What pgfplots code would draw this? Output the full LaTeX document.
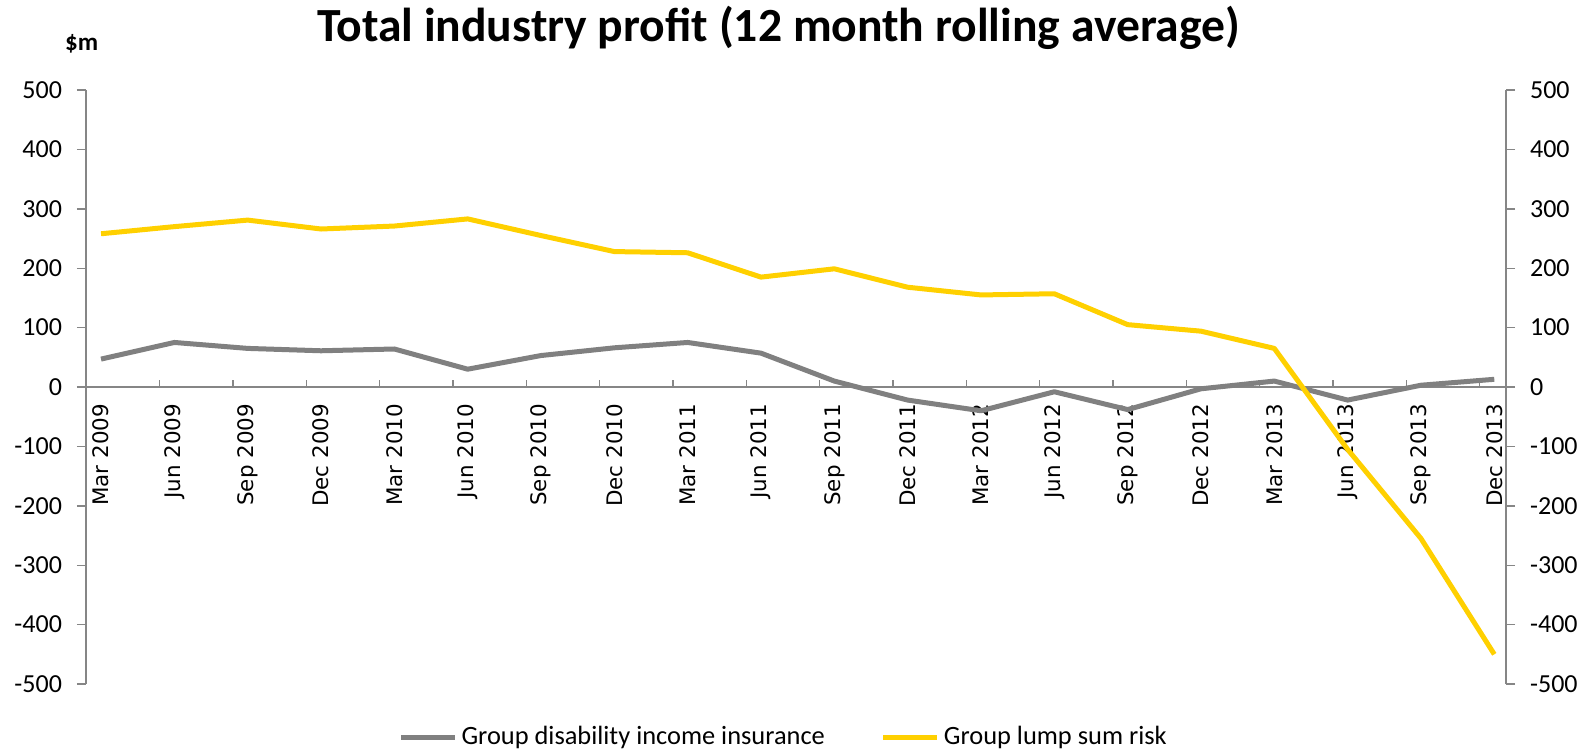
\documentclass[border=0pt]{standalone}
\usepackage{fontspec}
\setmainfont{Carlito}
\newfontfamily\dejavu{DejaVu Sans}
\usepackage{pgfplots}
\usepackage{pgfplotstable}
\pgfplotsset{compat=1.18}
\definecolor{ylw}{RGB}{255,208,0}
\definecolor{gry}{RGB}{128,128,128}
\definecolor{axg}{RGB}{134,134,134}

\pgfplotstableread{
x gdi gls
0 47 258
1 75 270
2 65 281
3 61 266
4 64 271
5 30 283
6 53 255
7 66 228
8 75 226
9 57 185
10 10 199
11 -22 168
12 -40 155
13 -8 157
14 -38 105
15 -3 94
16 10 65
17 -22 -105
18 3 -255
19 13 -450
}\datatab

\begin{document}
\begin{tikzpicture}
\useasboundingbox (-43pt,-34pt) rectangle (753.5pt,342pt);
\pgfplotsset{common/.style={at={(0,0)}, anchor=south west, scale only axis,
  width=710pt, height=297pt, xmin=-0.205, xmax=19.16, ymin=-500, ymax=500,
  tick style={axg, line width=0.7pt}},
  noarrows/.style={axis line style={axg, line width=0.7pt, -},
  every inner x axis line/.append style={-},
  every outer x axis line/.append style={-},
  every inner y axis line/.append style={-},
  every outer y axis line/.append style={-}}}
% left y axis
\begin{axis}[common, axis y line=left, axis x line=none, noarrows,
  ytick={-500,-400,...,500}, tick align=outside, major tick length=4.5pt,
  yticklabel style={font=\fontsize{13}{15}\selectfont, xshift=-4pt, /pgf/number format/assume math mode=true}]
\end{axis}
% right y axis
\begin{axis}[common, axis y line=right, axis x line=none, noarrows,
  ytick={-500,-400,...,500}, tick align=outside, major tick length=4.5pt,
  yticklabel style={font=\fontsize{13}{15}\selectfont, xshift=4pt, /pgf/number format/assume math mode=true}]
\end{axis}
% main axis with data
\begin{axis}[common, axis x line=middle, axis y line=none, noarrows,
  xtick={0,...,19},
  xticklabels={Mar 2009, Jun 2009, Sep 2009, Dec 2009, Mar 2010, Jun 2010, Sep 2010, Dec 2010, Mar 2011, Jun 2011, Sep 2011, Dec 2011, Mar 2012, Jun 2012, Sep 2012, Dec 2012, Mar 2013, Jun 2013, Sep 2013, Dec 2013},
  minor xtick={0.8,1.8,...,18.8},
  tick align=inside, major tick length=0pt, minor tick length=3.6pt,
  xticklabel style={font=\dejavu\fontsize{10.7}{12}\selectfont, yshift=-5pt, rotate=90, anchor=east},
  legend style={at={(0.492,-0.0892)}, anchor=center, draw=none, fill=none,
    legend columns=2, font=\fontsize{13.2}{15}\selectfont,
    /tikz/every even column/.append style={column sep=26pt}},
  legend image code/.code={\draw[#1] (0pt,0pt) -- (27pt,0pt);},
  clip=false]
\addplot[gry, line width=2.5pt, line join=round] table[x=x,y=gdi]{\datatab};
\addlegendentry{Group disability income insurance}
\addplot[ylw, line width=2.5pt, line join=round] table[x=x,y=gls]{\datatab};
\addlegendentry{Group lump sum risk}
\node[anchor=base, font=\fontsize{23.8}{28}\selectfont\bfseries] at (rel axis cs:0.4877,1) [yshift=24.2pt] {Total industry profit (12 month rolling average)};
\node[anchor=base, font=\fontsize{12.5}{15}\selectfont\bfseries] at (rel axis cs:0,1) [xshift=-2.2pt, yshift=19.7pt] {\$m};
\end{axis}
\end{tikzpicture}
\end{document}
